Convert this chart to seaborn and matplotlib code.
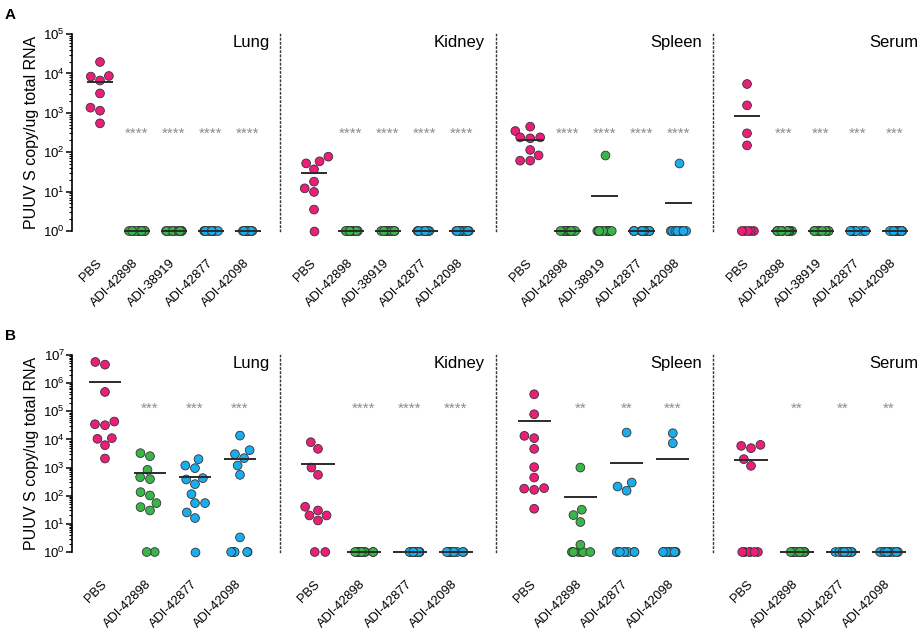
import numpy as np
import pandas as pd
import matplotlib
matplotlib.use('Agg')
import matplotlib.pyplot as plt
import seaborn as sns
from matplotlib.ticker import LogLocator, NullFormatter

# 數值：每個器官一組，依組別排列（1 = 偵測下限）
tissues = ['Lung', 'Kidney', 'Spleen', 'Serum']
groups_a = ['PBS', 'ADI-42898', 'ADI-38919', 'ADI-42877', 'ADI-42098']
groups_b = ['PBS', 'ADI-42898', 'ADI-42877', 'ADI-42098']
nd = [1, 1, 1, 1, 1, 1, 1, 1, 1, 1, 1, 1]

lung_a = [[19500, 8300, 6600, 8600, 3100, 1130, 1350, 540], nd, nd, nd, nd]
kidney_a = [[77, 58.6, 52, 36.7, 17.9, 12.1, 9.8, 3.5, 1], nd, nd, nd, nd]
spleen_a = [[445, 345, 238, 225, 238, 114, 83, 61, 61], nd,
            [83, 1, 1, 1, 1, 1, 1, 1, 1, 1, 1, 1], nd,
            [52, 1, 1, 1, 1, 1, 1, 1, 1, 1, 1, 1]]
serum_a = [[5380, 1548, 301, 149, 1, 1, 1, 1, 1], nd, nd, nd, nd]

lung_b = [[5.65e6, 4.54e6, 4.87e5, 4.32e4, 3.47e4, 3.2e4, 1.11e4, 1.05e4, 6250, 2100],
          [3250, 2540, 831, 457, 389, 134, 102, 54.7, 39.4, 29.9, 1, 1],
          [1991, 1183, 955, 422, 378, 258, 114, 54.7, 54.7, 25.4, 16.1, 1],
          [13680, 4150, 2990, 2160, 1183, 552, 3.3, 1, 1, 1, 1, 1]]
kidney_b = [[7980, 4620, 1000, 552, 40.5, 29.9, 19.9, 19.9, 13.2, 1, 1], nd, nd, nd]
spleen_b = [[403000, 78500, 13400, 11100, 4620, 1036, 443, 186, 162, 178, 34.4],
            [1000, 31.8, 20.5, 11.6, 1.8, 1, 1, 1, 1, 1, 1, 1],
            [17500, 294, 212, 150, 1, 1, 1, 1, 1, 1, 1, 1],
            [16600, 7350, 1, 1, 1, 1, 1, 1, 1, 1, 1, 1]]
serum_b = [[6400, 5900, 4890, 1990, 1150, 1, 1, 1, 1, 1, 1], nd, nd, nd]

stars_a = [['****'] * 4, ['****'] * 4, ['****'] * 4, ['***'] * 4]
stars_b = [['***', '***', '***'], ['****', '****', '****'], ['**', '**', '***'], ['**', '**', '**']]

pink, green, blue = '#EC1E79', '#3AB54A', '#1BACEC'
pal_a = dict(zip(groups_a, [pink, green, green, blue, blue]))
pal_b = dict(zip(groups_b, [pink, green, blue, blue]))

sns.set_theme(style='white')
plt.rcParams['font.family'] = ['Liberation Sans', 'DejaVu Sans']
plt.rcParams['axes.unicode_minus'] = False
plt.rcParams['text.color'] = 'black'
plt.rcParams['axes.labelcolor'] = 'black'
plt.rcParams['xtick.color'] = 'black'
plt.rcParams['ytick.color'] = 'black'

W, H = 919, 631
fig = plt.figure(figsize=(W / 100, H / 100), dpi=100)
edges = [72, 280, 496, 713, 929]
np.random.seed(4)


def drop_empty(ax):
    # 空的類別會留下空的 scatter，畫圖時會跑到左下角
    for c in list(ax.collections):
        if len(c.get_offsets()) == 0:
            c.remove()


def draw_panel(ax, groups, values, pal, title, stars, star_y, xlim, first):
    df = pd.DataFrame({'group': [g for g, v in zip(groups, values) for _ in v],
                       'value': [x for v in values for x in v]})
    kw = dict(x='group', y='value', order=groups, hue='group', palette=pal, size=6.3,
              edgecolor='#333333', linewidth=0.6, legend=False, zorder=3, ax=ax)
    # 偵測下限的點壓在軸線上，不裁切
    sns.stripplot(data=df[df['value'] <= 1], jitter=0.22, clip_on=False, **kw)
    drop_empty(ax)
    sns.swarmplot(data=df[df['value'] > 1], **kw)
    drop_empty(ax)
    means = df.groupby('group')['value'].mean()
    for i, g in enumerate(groups):
        ax.hlines(means[g], i - 0.36, i + 0.36, color='#2b2b2b', lw=1.4, zorder=4, clip_on=False)
    for i, s in enumerate(stars):
        ax.text(i + 1, star_y, s, ha='center', va='center', fontsize=11, color='#8c8c8c')
    ax.set_xlim(*xlim)
    ax.set_xlabel('')
    ax.set_ylabel('')
    ax.text(0.95, 0.995, title, transform=ax.transAxes, ha='right', va='top', fontsize=12)
    for sp in ['top', 'right', 'bottom']:
        ax.spines[sp].set_visible(False)
    ax.tick_params(axis='x', length=0, pad=22, labelsize=9.3)
    plt.setp(ax.get_xticklabels(), rotation=45, ha='right', rotation_mode='anchor', va='center')
    ax.set_facecolor('none')
    if first:
        ax.spines['left'].set_color('black')
        ax.spines['left'].set_linewidth(1.2)
        ax.yaxis.set_major_locator(LogLocator(base=10, numticks=20))
        ax.yaxis.set_minor_locator(LogLocator(base=10, subs=np.arange(2, 10), numticks=20))
        ax.yaxis.set_minor_formatter(NullFormatter())
        ax.tick_params(axis='y', which='major', left=True, length=4, width=1.1, color='black',
                       labelsize=9.5, pad=1)
        ax.tick_params(axis='y', which='minor', left=True, length=2.2, width=0.8, color='black')
        ax.set_ylabel('PUUV S copy/ug total RNA', fontsize=11.5, labelpad=3)
    else:
        ax.spines['left'].set_linestyle((0, (1, 2)))
        ax.spines['left'].set_color('#333333')
        ax.spines['left'].set_linewidth(1.0)
        ax.tick_params(axis='y', which='both', left=False, labelleft=False)


rows = [
    dict(groups=groups_a, data=[lung_a, kidney_a, spleen_a, serum_a], pal=pal_a, stars=stars_a,
         star_y=290, ylim=(1, 1e5), top=34, bot=231,
         xlims=[(-0.757, 4.865), (-0.92, 4.92), (-0.92, 4.92), (-0.92, 4.92)], letter='A'),
    dict(groups=groups_b, data=[lung_b, kidney_b, spleen_b, serum_b], pal=pal_b, stars=stars_b,
         star_y=1.2e5, ylim=(1, 1e7), top=355, bot=552,
         xlims=[(-0.733, 3.889), (-0.826, 3.87), (-0.826, 3.87), (-0.826, 3.87)], letter='B'),
]

for r in rows:
    for k, tissue in enumerate(tissues):
        x0, x1 = edges[k], edges[k + 1]
        ax = fig.add_axes([x0 / W, 1 - r['bot'] / H, (x1 - x0) / W, (r['bot'] - r['top']) / H])
        ax.set_yscale('log')
        ax.set_ylim(*r['ylim'])
        draw_panel(ax, r['groups'], r['data'][k], r['pal'], tissue, r['stars'][k], r['star_y'],
                   r['xlims'][k], k == 0)
        ax.set_ylim(*r['ylim'])
    fig.text(5 / W, 1 - (r['top'] - 26) / H, r['letter'], fontsize=11, fontweight='bold',
             ha='left', va='top')

fig.savefig('out.png', dpi=100)
